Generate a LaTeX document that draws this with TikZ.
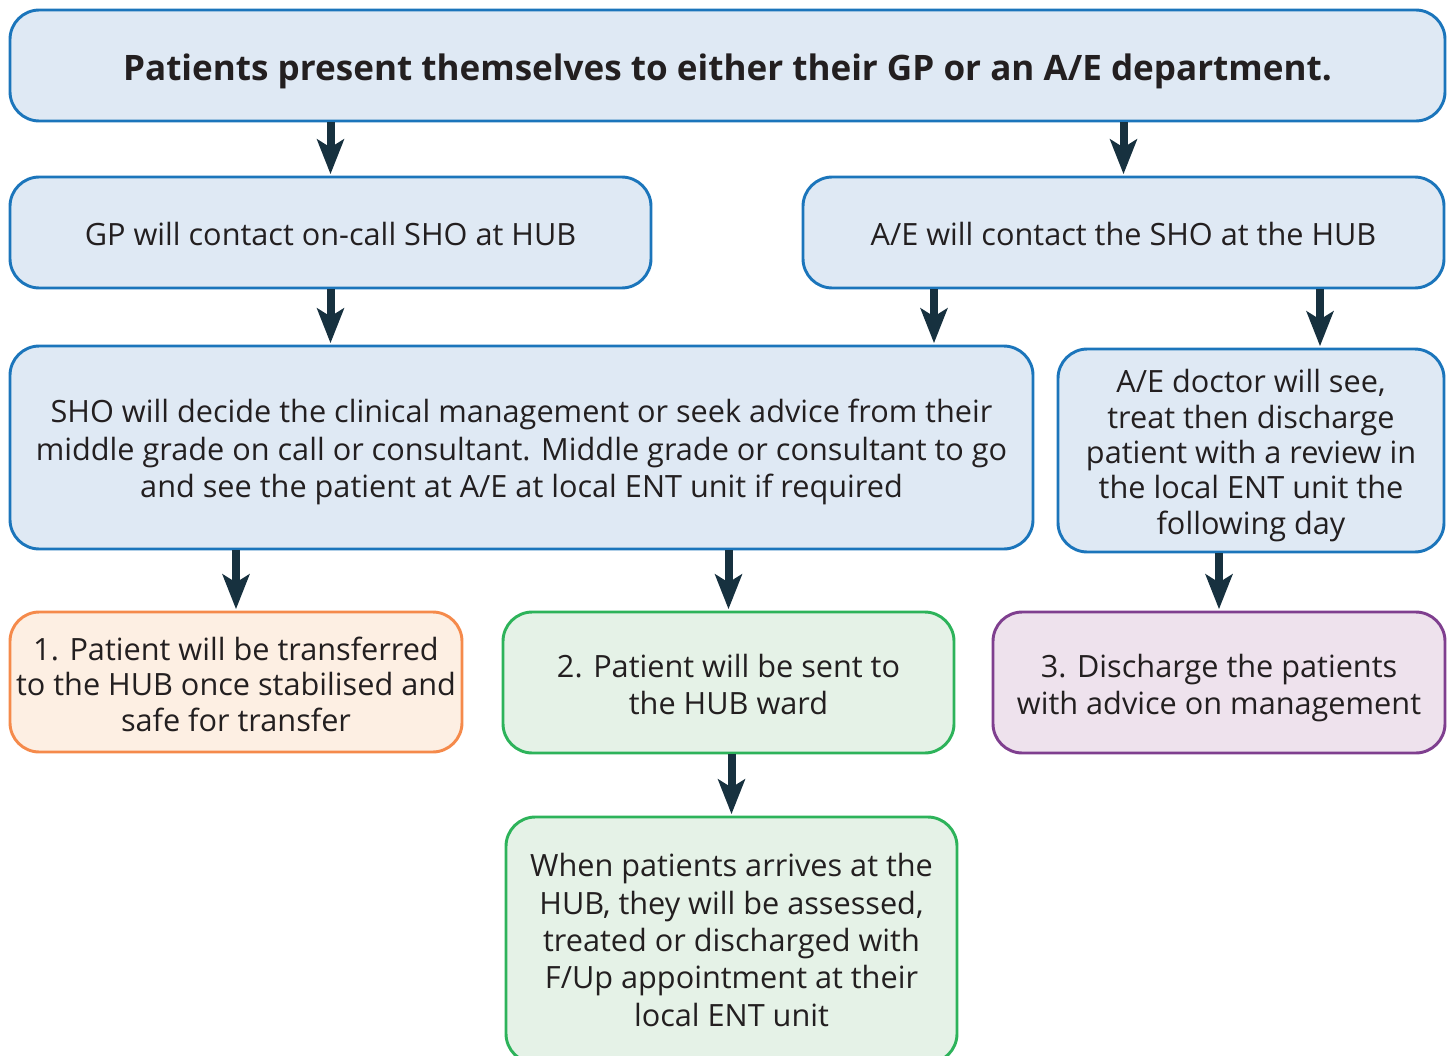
\documentclass[tikz,border=0pt]{standalone}
\usepackage{fontspec}
\setmainfont{Open Sans}
\usetikzlibrary{arrows.meta}
\definecolor{txt}{HTML}{231F20}
\definecolor{arrowc}{HTML}{17313F}
\definecolor{blueline}{HTML}{1B75BB}
\definecolor{bluefill}{HTML}{DFE9F4}
\definecolor{orangeline}{HTML}{F58A4B}
\definecolor{orangefill}{HTML}{FDEFE3}
\definecolor{greenline}{HTML}{2DB35A}
\definecolor{greenfill}{HTML}{E5F2E7}
\definecolor{purpleline}{HTML}{7F3F8F}
\definecolor{purplefill}{HTML}{EEE2ED}
% centred lines, lowered by #1 without changing the box size
\newcommand\boxtext[2][0pt]{\raisebox{#1}[\height][\depth]{\begin{tabular}{@{}c@{}}#2\end{tabular}}}
\tikzset{
  box/.style={draw, line width=2.2pt, rounded corners=22pt,
    text=txt, inner sep=0pt, font=\fontsize{23}{28}\selectfont},
  tight/.style={font=\fontsize{23}{26.5}\selectfont},
  bluebox/.style={box, draw=blueline, fill=bluefill},
  orangebox/.style={box, draw=orangeline, fill=orangefill},
  greenbox/.style={box, draw=greenline, fill=greenfill},
  purplebox/.style={box, draw=purpleline, fill=purplefill},
  flow/.style={draw=arrowc, line width=6pt,
    -{Stealth[length=26pt, width=20pt, inset=6pt]}, shorten >=1pt},
}
\begin{document}
\begin{tikzpicture}[x=0.75pt, y=-0.75pt]
\clip (0,0) rectangle (1452,1056);
\useasboundingbox (0,0) rectangle (1452,1056);

% entry point
\node[bluebox, minimum width=1435*0.75pt, minimum height=111*0.75pt,
      font=\fontsize{26.3}{30}\selectfont\bfseries] (top) at (727.5,65.5)
  {\boxtext[-5pt]{Patients present themselves to either their GP or an A/E department.}};

% first contact
\node[bluebox, minimum width=641*0.75pt, minimum height=111*0.75pt] (gp) at (330.5,232.5)
  {\boxtext[-4.5pt]{GP will contact on-call SHO at HUB}};
\node[bluebox, minimum width=641*0.75pt, minimum height=111*0.75pt] (ae) at (1123.5,232.5)
  {\boxtext[-4.5pt]{A/E will contact the SHO at the HUB}};

% decision level
\node[bluebox, minimum width=1023*0.75pt, minimum height=203*0.75pt] (sho) at (521.5,447.5)
  {\boxtext[-3.8pt]{SHO will decide the clinical management or seek advice from their\\
   middle grade on call or consultant. Middle grade or consultant to go\\
   and see the patient at A/E at local ENT unit if required}};
\node[bluebox, tight, minimum width=386*0.75pt, minimum height=203*0.75pt] (aed) at (1251,450.5)
  {\boxtext[-4.5pt]{A/E doctor will see,\\ treat then discharge\\ patient with a review in\\
   the local ENT unit the\\ following day}};

% outcomes
\node[orangebox, tight, minimum width=452*0.75pt, minimum height=140*0.75pt] (o1) at (236,682)
  {\boxtext[-5pt]{1. Patient will be transferred\\ to the HUB once stabilised and\\ safe for transfer}};
\node[greenbox, minimum width=451*0.75pt, minimum height=141*0.75pt] (g2) at (728.5,682.5)
  {\boxtext[-4.5pt]{2. Patient will be sent to\\ the HUB ward}};
\node[purplebox, minimum width=452*0.75pt, minimum height=141*0.75pt] (p3) at (1219,682.5)
  {\boxtext[-4.3pt]{3. Discharge the patients\\ with advice on management}};
\node[greenbox, minimum width=451*0.75pt, minimum height=246*0.75pt] (fin) at (731.5,940)
  {\boxtext[-3pt]{When patients arrives at the\\ HUB, they will be assessed,\\ treated or discharged with\\
   F/Up appointment at their\\ local ENT unit}};

% connectors
\coordinate (k1) at (934,300);
\coordinate (k2) at (1320,300);
\draw[flow] (gp.north |- top.south) -- (gp.north);
\draw[flow] (ae.north |- top.south) -- (ae.north);
\draw[flow] (gp.south) -- (gp.south |- sho.north);
\draw[flow] (ae.south -| k1) -- (sho.north -| k1);
\draw[flow] (ae.south -| k2) -- (aed.north -| k2);
\draw[flow] (o1.north |- sho.south) -- (o1.north);
\draw[flow] (g2.north |- sho.south) -- (g2.north);
\draw[flow] (aed.south -| p3.north) -- (p3.north);
\draw[flow] (g2.south -| fin.north) -- (fin.north);
\end{tikzpicture}
\end{document}
